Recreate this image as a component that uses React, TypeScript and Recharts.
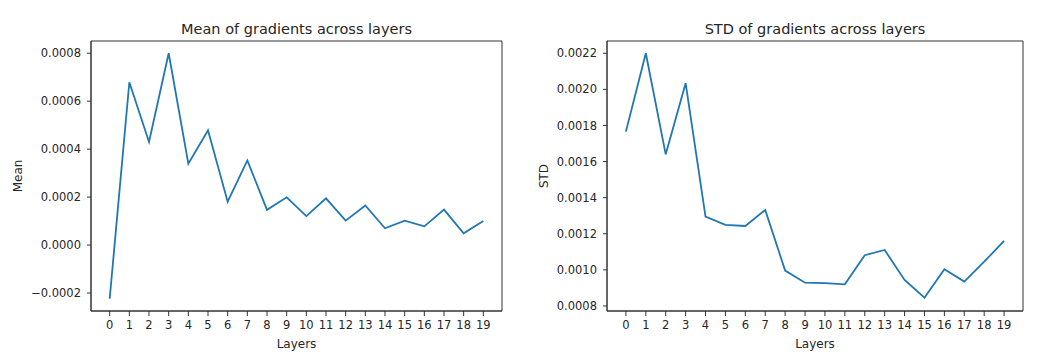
import React from 'react';
import { LineChart, Line, XAxis, YAxis, ReferenceArea } from 'recharts';

const layers = [0, 1, 2, 3, 4, 5, 6, 7, 8, 9, 10, 11, 12, 13, 14, 15, 16, 17, 18, 19];
const meanValues = [
  -0.000224, 0.000679, 0.00043, 0.0008, 0.000339, 0.000479, 0.000181, 0.000353, 0.000147, 0.000199,
  0.000121, 0.000195, 0.000102, 0.000165, 0.00007, 0.000102, 0.000078, 0.000148, 0.000049, 0.0001,
];
const stdValues = [
  0.001766, 0.0022, 0.00164, 0.002034, 0.001295, 0.001249, 0.001243, 0.001332, 0.000996, 0.000929,
  0.000927, 0.00092, 0.001081, 0.00111, 0.000944, 0.000846, 0.001003, 0.000935, 0.001045, 0.00116,
];
const meanTicks = [-0.0002, 0, 0.0002, 0.0004, 0.0006, 0.0008];
const stdTicks = [0.0008, 0.001, 0.0012, 0.0014, 0.0016, 0.0018, 0.002, 0.0022];
const meanDomain: [number, number] = [-0.000275, 0.000851];
const stdDomain: [number, number] = [0.000772, 0.002268];
const xDomain: [number, number] = [-0.95, 19.95];

const meanData = layers.map((l, i) => ({ layer: l, value: meanValues[i] }));
const stdData = layers.map((l, i) => ({ layer: l, value: stdValues[i] }));

const FONT = '"DejaVu Sans", sans-serif';
const TEXT = '#262626';
const AXIS = '#333333';

const fmt = (v: number) => v.toFixed(4).replace('-', '\u2212');

type PanelProps = {
  data: { layer: number; value: number }[];
  ticks: number[];
  domain: [number, number];
  title: string;
  ylabel: string;
  width: number;
  margin: { top: number; right: number; bottom: number; left: number };
  yWidth: number;
  yLabelOffset: number;
};

function Panel(p: PanelProps) {
  return (
    <LineChart width={p.width} height={363} data={p.data} margin={p.margin} style={{ fontFamily: FONT }}>
      <XAxis
        dataKey="layer"
        type="number"
        domain={xDomain}
        allowDataOverflow
        ticks={layers}
        interval={0}
        height={30}
        tickSize={5}
        tickMargin={5}
        stroke={AXIS}
        tick={{ fill: TEXT, fontSize: 11.5, fontFamily: FONT }}
        label={{ value: 'Layers', position: 'bottom', offset: -2, fill: TEXT, fontSize: 12, fontFamily: FONT }}
      />
      <YAxis
        type="number"
        domain={p.domain}
        allowDataOverflow
        ticks={p.ticks}
        interval={0}
        width={p.yWidth}
        tickSize={4}
        tickMargin={6}
        stroke={AXIS}
        tickFormatter={fmt}
        tick={{ fill: TEXT, fontSize: 11.5, fontFamily: FONT }}
        label={{
          value: p.ylabel,
          angle: -90,
          position: 'insideLeft',
          offset: p.yLabelOffset,
          fill: TEXT,
          fontSize: 12,
          fontFamily: FONT,
          style: { textAnchor: 'middle' },
        }}
      />
      <ReferenceArea
        x1={xDomain[0]}
        x2={xDomain[1]}
        y1={p.domain[0]}
        y2={p.domain[1]}
        fill="none"
        fillOpacity={0}
        stroke={AXIS}
        strokeWidth={1}
        ifOverflow="visible"
        label={{ value: p.title, position: 'top', offset: 7, fill: TEXT, fontSize: 14.5, fontFamily: FONT }}
      />
      <Line
        type="linear"
        dataKey="value"
        stroke="#1f77b4"
        strokeWidth={1.8}
        dot={false}
        activeDot={false}
        isAnimationActive={false}
      />
    </LineChart>
  );
}

export default function App() {
  return (
    <div style={{ position: 'absolute', left: 0, top: 0, width: 1050, height: 363, background: '#fff' }}>
      <div style={{ position: 'absolute', left: 0, top: 0 }}>
        <Panel
          data={meanData}
          ticks={meanTicks}
          domain={meanDomain}
          title="Mean of gradients across layers"
          ylabel="Mean"
          width={525}
          margin={{ top: 41, right: 23, bottom: 22, left: 11 }}
          yWidth={80}
          yLabelOffset={7}
        />
      </div>
      <div style={{ position: 'absolute', left: 530, top: 0 }}>
        <Panel
          data={stdData}
          ticks={stdTicks}
          domain={stdDomain}
          title="STD of gradients across layers"
          ylabel="STD"
          width={520}
          margin={{ top: 41, right: 27, bottom: 22, left: 7 }}
          yWidth={70}
          yLabelOffset={7}
        />
      </div>
    </div>
  );
}
